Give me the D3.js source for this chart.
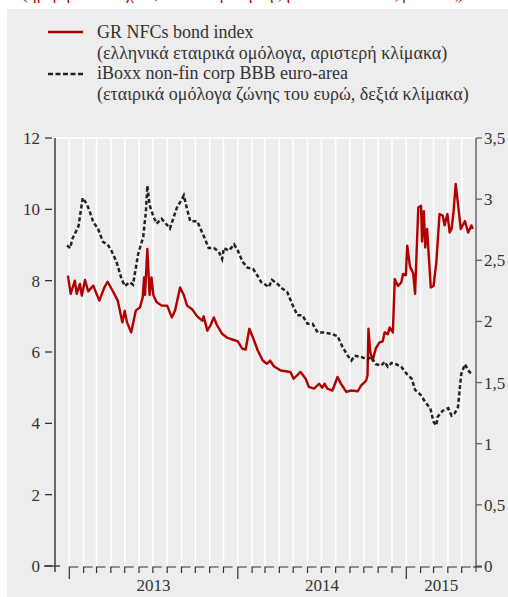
<!DOCTYPE html>
<html><head><meta charset="utf-8">
<script src="https://cdn.jsdelivr.net/npm/d3@7"></script>
<style>body{margin:0;background:#fff}svg{display:block}text{font-family:"Liberation Serif","DejaVu Serif",serif}</style>
</head><body>
<svg id="c" width="508" height="597"></svg>
<script>
// Red series: GR NFCs bond index (left axis, %)
const grDates = ["2012-12-29","2013-01-04","2013-01-13","2013-01-17","2013-01-24","2013-01-28","2013-02-04","2013-02-11","2013-02-22","2013-03-01","2013-03-07","2013-03-18","2013-03-25","2013-04-06","2013-04-16","2013-04-26","2013-05-01","2013-05-06","2013-05-15","2013-05-25","2013-06-03","2013-06-09","2013-06-12","2013-06-14","2013-06-19","2013-06-24","2013-06-28","2013-07-02","2013-07-09","2013-07-20","2013-08-01","2013-08-11","2013-08-18","2013-08-29","2013-09-06","2013-09-13","2013-09-24","2013-10-05","2013-10-16","2013-10-19","2013-10-27","2013-11-03","2013-11-10","2013-11-17","2013-11-28","2013-12-09","2013-12-20","2014-01-01","2014-01-11","2014-01-18","2014-01-26","2014-02-03","2014-02-13","2014-02-24","2014-03-05","2014-03-12","2014-03-20","2014-04-04","2014-04-25","2014-05-02","2014-05-17","2014-05-28","2014-06-04","2014-06-15","2014-06-26","2014-07-03","2014-07-08","2014-07-14","2014-07-25","2014-08-05","2014-08-13","2014-08-24","2014-09-04","2014-09-18","2014-09-25","2014-10-06","2014-10-09","2014-10-11","2014-10-15","2014-10-20","2014-10-27","2014-11-04","2014-11-11","2014-11-15","2014-11-22","2014-11-26","2014-12-03","2014-12-07","2014-12-14","2014-12-21","2014-12-25","2014-12-31","2015-01-03","2015-01-09","2015-01-16","2015-01-20","2015-01-27","2015-02-02","2015-02-04","2015-02-08","2015-02-11","2015-02-15","2015-02-18","2015-02-23","2015-03-01","2015-03-07","2015-03-14","2015-03-21","2015-03-25","2015-03-31","2015-04-05","2015-04-09","2015-04-13","2015-04-18","2015-04-23","2015-04-29","2015-05-08","2015-05-15","2015-05-22","2015-05-25"];
const grValues = [8.14,7.63,8.0,7.63,7.91,7.58,8.02,7.7,7.86,7.63,7.44,7.81,7.97,7.69,7.44,6.83,7.16,6.83,6.55,7.16,7.25,7.53,8.09,7.6,8.89,7.6,8.09,7.6,7.4,7.3,7.3,6.97,7.16,7.81,7.6,7.3,7.2,7.0,6.88,7.0,6.6,6.75,6.97,6.75,6.51,6.4,6.35,6.3,6.09,6.07,6.65,6.4,6.05,5.76,5.67,5.76,5.6,5.48,5.44,5.25,5.44,5.25,5.02,4.97,5.11,5.0,5.11,4.97,4.92,5.3,5.1,4.88,4.92,4.9,5.06,5.2,5.35,6.65,6.0,5.76,6.1,6.27,6.3,6.55,6.5,6.69,6.55,8.05,7.85,7.95,8.19,8.15,8.98,8.4,8.2,7.63,10.05,10.1,9.1,9.95,8.93,9.45,8.85,7.81,7.85,8.5,9.87,9.82,9.55,9.87,9.35,9.45,9.87,10.71,10.15,9.45,9.67,9.35,9.55,9.45];
// Black dashed series: iBoxx non-fin corp BBB euro-area (right axis, %)
const ibDates = ["2012-12-27","2013-01-03","2013-01-07","2013-01-21","2013-01-30","2013-02-08","2013-02-15","2013-02-22","2013-03-04","2013-03-15","2013-03-25","2013-04-02","2013-04-13","2013-04-24","2013-05-01","2013-05-12","2013-05-19","2013-05-30","2013-06-10","2013-06-16","2013-06-19","2013-06-24","2013-07-02","2013-07-09","2013-07-20","2013-07-27","2013-08-07","2013-08-22","2013-09-02","2013-09-06","2013-09-13","2013-09-20","2013-10-05","2013-10-19","2013-10-30","2013-11-10","2013-11-21","2013-11-28","2013-12-02","2013-12-13","2013-12-24","2014-01-01","2014-01-11","2014-01-22","2014-02-03","2014-02-10","2014-02-21","2014-03-02","2014-03-09","2014-03-16","2014-03-27","2014-04-07","2014-04-18","2014-04-29","2014-05-10","2014-05-21","2014-06-01","2014-06-12","2014-06-23","2014-07-07","2014-07-21","2014-08-05","2014-08-16","2014-08-27","2014-09-04","2014-09-11","2014-09-25","2014-10-09","2014-10-17","2014-10-27","2014-11-08","2014-11-15","2014-11-22","2014-11-30","2014-12-10","2014-12-21","2015-01-02","2015-01-13","2015-01-20","2015-02-01","2015-02-11","2015-02-22","2015-03-01","2015-03-07","2015-03-10","2015-03-21","2015-04-02","2015-04-09","2015-04-16","2015-04-23","2015-04-30","2015-05-08","2015-05-15","2015-05-22"];
const ibValues = [2.62,2.6,2.67,2.78,3.01,2.96,2.89,2.81,2.76,2.65,2.63,2.58,2.49,2.35,2.29,2.32,2.3,2.55,2.69,2.9,3.11,2.95,2.86,2.8,2.84,2.81,2.76,2.93,3.0,3.03,2.92,2.82,2.82,2.7,2.6,2.6,2.57,2.51,2.6,2.58,2.63,2.58,2.49,2.44,2.43,2.39,2.32,2.3,2.28,2.34,2.31,2.27,2.24,2.14,2.05,2.05,1.98,1.98,1.91,1.91,1.9,1.88,1.79,1.72,1.68,1.72,1.71,1.69,1.71,1.65,1.64,1.67,1.63,1.66,1.65,1.63,1.57,1.53,1.44,1.4,1.34,1.29,1.18,1.15,1.22,1.27,1.29,1.23,1.25,1.3,1.57,1.65,1.6,1.57];
const leftTicks = [0,2,4,6,8,10,12];
const rightTicks = [0,0.5,1,1.5,2,2.5,3,3.5];
const yearLabels = ["2013","2014","2015"];
const legendLines = ["GR NFCs bond index","(ελληνικά εταιρικά ομόλογα, αριστερή κλίμακα)","iBoxx non-fin corp BBB euro-area","(εταιρικά ομόλογα ζώνης του ευρώ, δεξιά κλίμακα)"];

const parse = d3.timeParse("%Y-%m-%d");
const svg = d3.select("#c");
const RED = "#b00000";
const L = 55, R = 476, T = 138, B = 566;

svg.append("rect").attr("x",7).attr("y",9).attr("width",501).attr("height",588).attr("fill","#ededed");
svg.append("text").attr("x",22).attr("y",-1).attr("fill",RED).attr("font-size",17)
  .text("(ημερήσια στοιχεία, απόδοση στη λήξη σε ποσοστιαίες μονάδες)");

const x = d3.scaleTime().domain([new Date(2012,11,1), new Date(2015,5,1)]).range([L,R]);
const yL = d3.scaleLinear().domain([0,12]).range([B,T]);
const yR = d3.scaleLinear().domain([0,3.5]).range([B,T]);
const months = d3.timeMonth.range(new Date(2012,11,1), new Date(2015,5,1));

// grid
svg.append("g").selectAll("line").data(months.slice(1)).join("line")
  .attr("x1",d=>x(d)).attr("x2",d=>x(d)).attr("y1",T).attr("y2",B)
  .attr("stroke","#fff").attr("stroke-width",1.6);
svg.append("line").attr("x1",44).attr("x2",R).attr("y1",T).attr("y2",T).attr("stroke","#fff").attr("stroke-width",1.6);

// left axis
svg.append("line").attr("x1",L).attr("x2",L).attr("y1",T).attr("y2",B+6).attr("stroke","#222").attr("stroke-width",1.3);
const gl = svg.append("g");
gl.selectAll("line").data(leftTicks).join("line").attr("x1",45).attr("x2",52).attr("y1",d=>yL(d)).attr("y2",d=>yL(d)).attr("stroke","#333").attr("stroke-width",1.3);
gl.selectAll("text").data(leftTicks).join("text").attr("x",40).attr("y",d=>yL(d)+6).attr("text-anchor","end")
  .attr("font-size",17).attr("fill","#333").text(d=>d);

// right axis
svg.append("line").attr("x1",R).attr("x2",R).attr("y1",T).attr("y2",B+6).attr("stroke","#666").attr("stroke-width",1.5);
const gr = svg.append("g");
gr.selectAll("line").data(rightTicks).join("line").attr("x1",R).attr("x2",R+6).attr("y1",d=>yR(d)).attr("y2",d=>yR(d)).attr("stroke","#666").attr("stroke-width",1.3);
gr.selectAll("text").data(rightTicks).join("text").attr("x",R+8).attr("y",d=>yR(d)+6)
  .attr("font-size",17).attr("fill","#333").text(d=>String(d).replace(".",","));

// bottom axis
svg.append("line").attr("x1",44).attr("x2",L+5).attr("y1",B).attr("y2",B).attr("stroke","#333").attr("stroke-width",1.3);
svg.append("g").selectAll("path").data(months.slice(1)).join("path")
  .attr("d",d=>{const xx=x(d), len=d.getMonth()===0?12:6; return `M${xx},${B+1+len}V${B+1}H${xx+9}`;})
  .attr("fill","none").attr("stroke","#333").attr("stroke-width",1.2);
svg.append("line").attr("x1",R-3).attr("x2",R+6).attr("y1",B+1).attr("y2",B+1).attr("stroke","#333").attr("stroke-width",1.2);
svg.append("g").selectAll("text").data(yearLabels).join("text")
  .attr("x",d=>{const a=x(new Date(+d,0,1)), b=Math.min(x(new Date(+d+1,0,1)),R); return (a+b)/2;})
  .attr("y",591).attr("text-anchor","middle").attr("font-size",17).attr("fill","#333").text(d=>d);

// series
const gr1 = grDates.map((d,i)=>({d:parse(d),v:grValues[i]}));
const ib1 = ibDates.map((d,i)=>({d:parse(d),v:ibValues[i]}));
svg.append("path").datum(gr1).attr("d",d3.line().x(p=>x(p.d)).y(p=>yL(p.v)))
  .attr("fill","none").attr("stroke",RED).attr("stroke-width",2.4).attr("stroke-linejoin","round");
svg.append("path").datum(ib1).attr("d",d3.line().x(p=>x(p.d)).y(p=>yR(p.v)))
  .attr("fill","none").attr("stroke","#222").attr("stroke-width",2.5).attr("stroke-dasharray","4,2.5");

// legend
svg.append("line").attr("x1",48).attr("x2",83).attr("y1",32).attr("y2",32).attr("stroke",RED).attr("stroke-width",2.4);
svg.append("line").attr("x1",48).attr("x2",83).attr("y1",74).attr("y2",74).attr("stroke","#222").attr("stroke-width",2.5).attr("stroke-dasharray","5,2.5");
svg.append("g").selectAll("text").data(legendLines).join("text")
  .attr("x",97).attr("y",(d,i)=>38+i*20.5).attr("font-size",18).attr("fill","#333").text(d=>d);
</script>
</body></html>
